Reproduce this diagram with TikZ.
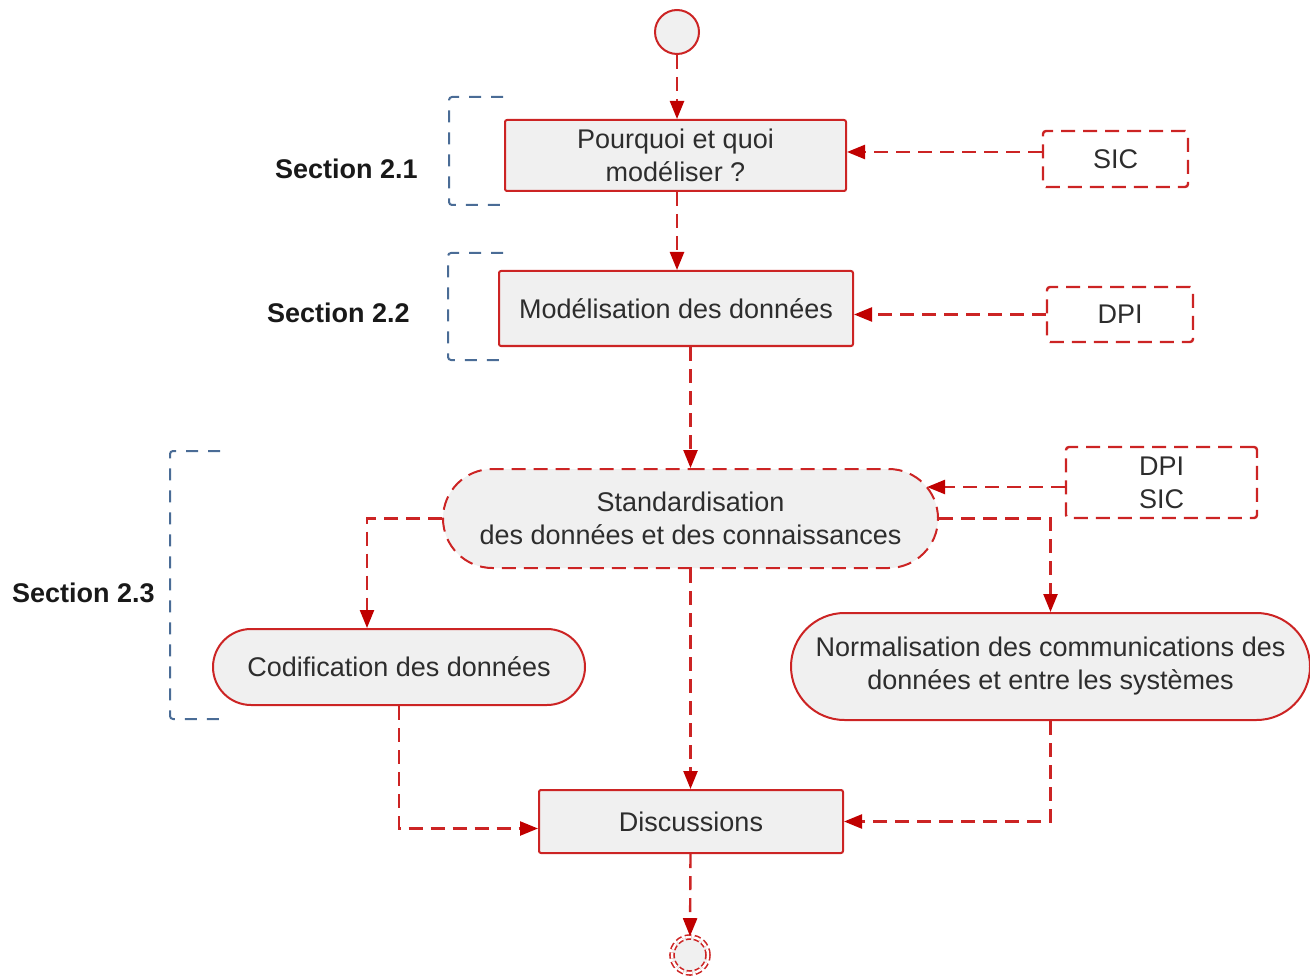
\documentclass[tikz,border=0pt]{standalone}
\usepackage{fontspec}
\setmainfont{Liberation Sans}
\usetikzlibrary{arrows.meta,shapes.misc,calc}
\definecolor{flowred}{RGB}{204,36,36}
\definecolor{tipred}{RGB}{192,0,0}
\definecolor{boxfill}{RGB}{240,240,240}
\definecolor{txtgray}{RGB}{45,45,45}
\definecolor{brackblue}{RGB}{74,108,150}

\begin{document}
\begin{tikzpicture}[x=0.5pt,y=-0.5pt,
  every node/.style={font=\fontsize{13.5}{16.5}\selectfont, text=txtgray, align=center, inner sep=0pt},
  actbox/.style={draw=flowred, line width=1pt, fill=boxfill, rounded corners=1pt},
  notebox/.style={draw=flowred, line width=1.2pt, dash pattern=on 7pt off 4pt, rounded corners=1.5pt},
  pill/.style={rounded rectangle, draw=flowred, line width=1pt, fill=boxfill},
  flow/.style={draw=flowred, line width=1.2pt, dash pattern=on 7pt off 4pt,
    -{Triangle[length=9pt,width=7pt,color=tipred]}},
  bracket/.style={draw=brackblue, line width=1pt, dash pattern=on 6pt off 5pt, rounded corners=1.5pt},
  seclabel/.style={font=\bfseries\fontsize{13.5}{16.5}\selectfont, text=black!90, anchor=east}
]
\useasboundingbox (0,0) rectangle (1310,978);

% initial and final states
\node[circle, draw=flowred, line width=1pt, fill=boxfill, minimum size=22pt] (start) at (677,32) {};
\node[circle, draw=flowred, line width=0.8pt, double=white, double distance=1.2pt,
      dash pattern=on 3pt off 1.5pt, fill=boxfill, minimum size=18pt] (finish) at (690,955) {};

% activities
\node[actbox, minimum width=170.5pt, minimum height=35.5pt] (why) at (675.5,155.5) {Pourquoi et quoi\\modéliser ?};
\node[actbox, minimum width=177pt, minimum height=37.5pt] (model) at (676,308.5) {Modélisation des données};
\node[pill, dash pattern=on 7pt off 4pt, minimum width=247.5pt, minimum height=49.5pt] (std) at (690.5,518.5)
  {Standardisation\\des données et des connaissances};
\node[pill, minimum width=186pt, minimum height=38pt] (cod) at (399,667) {Codification des données};
\node[pill, minimum width=259.5pt, minimum height=53.5pt] (norm) at (1050.5,666.5)
  {Normalisation des communications des\\données et entre les systèmes};
\node[actbox, minimum width=152pt, minimum height=31.5pt] (disc) at (691,821.5) {Discussions};

% sources
\node[notebox, minimum width=72.5pt, minimum height=28pt] (sic) at (1115.5,159) {SIC};
\node[notebox, minimum width=73pt, minimum height=27.5pt] (dpi) at (1120,314.5) {DPI};
\node[notebox, minimum width=95.5pt, minimum height=35.5pt] (dpisic) at (1161.5,482.5) {DPI\\SIC};
\coordinate (stdin) at (927,487);

% flows
\draw[flow] (start.south) -- (start.south |- why.north);
\draw[flow] (why.south -| start) -- (start |- model.north);
\draw[flow] ([yshift=3.5pt]sic.west) -- ([yshift=3.5pt]sic.west -| why.east);
\draw[flow] (dpi.west) -- (dpi.west -| model.east);
\draw[flow] (model.south -| std.north) -- (std.north);
\draw[flow] (dpisic.west |- stdin) -- (stdin);
\draw[flow] (std.east) -| (norm.north);
\draw[flow] (std.west) -| ([xshift=-16pt]cod.north);
\draw[flow] (std.south) -- (std.south |- disc.north);
\draw[flow] (cod.south) |- ([yshift=-3.5pt]disc.west);
\draw[flow] (norm.south) |- (disc.east);
\draw[flow] (disc.south -| std.south) -- (finish.north);

% section brackets
\draw[bracket] (503,97) -- (449,97) -- (449,205) -- (503,205);
\draw[bracket] (503,253) -- (448,253) -- (448,360) -- (503,360);
\draw[bracket] (220,451) -- (170,451) -- (170,719) -- (225,719);
\node[seclabel] (s21) at (418,169) {Section 2.1};
\node[seclabel] (s22) at (410,313) {Section 2.2};
\node[seclabel] (s23) at (155,593) {Section 2.3};
\end{tikzpicture}
\end{document}
